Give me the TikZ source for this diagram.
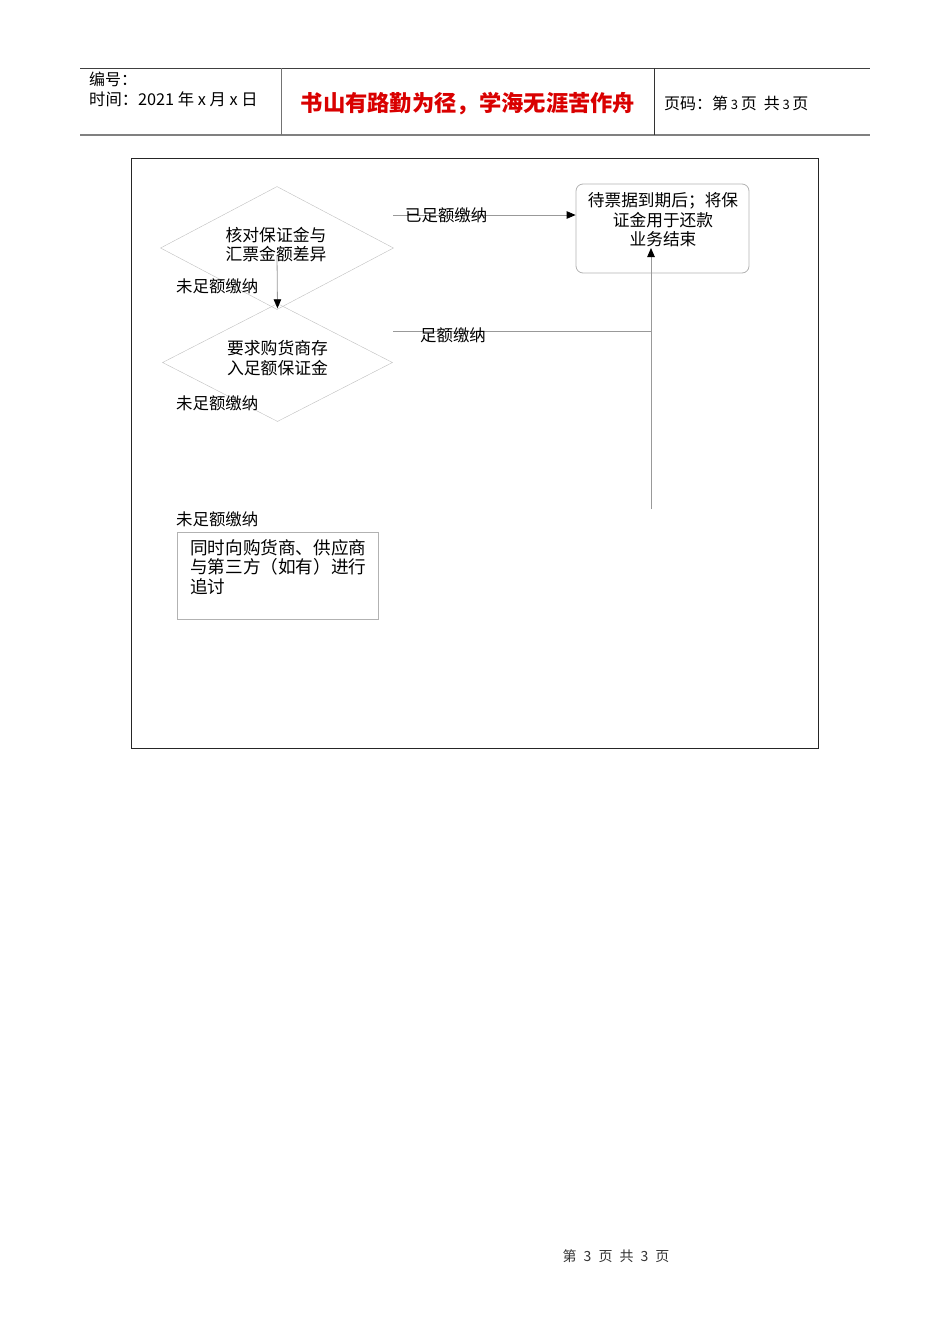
\documentclass[tikz,border=0pt]{standalone}
\usepackage{fontspec}
\setmainfont{Liberation Sans}
\newfontfamily\cjk{Noto Sans CJK SC}
\usetikzlibrary{shapes.geometric,arrows.meta,calc}

\begin{document}
\begin{tikzpicture}[>={Triangle[width=7.5pt,length=9pt,color=black]},x=1pt,y=-1pt,
		font=\cjk\fontsize{16.4}{19.5}\selectfont,
		hop/.style={shape=diamond,draw=black!25,shape aspect=1.9,minimum width=233pt,minimum height=123pt,inner sep=0pt},
		chu/.style={align=center,inner sep=0pt,font=\cjk\fontsize{16.8}{19.5}\selectfont},
		ghi/.style={anchor=west,inner sep=0pt},
		noi/.style={draw=black!40,line width=0.8pt},
		khung/.style={draw=black!30,line width=0.8pt}]
			\def\red{red!85!black}
			\useasboundingbox (0,0) rectangle (950,1344);
			% Vẽ đầu trang
			\draw[black!75,line width=0.8pt] (80,68)--(870,68);
			\draw[black!50,line width=1.6pt] (80,135)--(870,135);
			\draw[black!55,line width=1pt] (281,68)--(281,135);
			\draw[black!80,line width=0.8pt] (654,68)--(654,135);
			\node[ghi,font=\cjk\fontsize{16}{18}\selectfont] (soHieu) at (89,79) {编号：};
			\node[ghi,font=\cjk\fontsize{16.3}{18}\selectfont] (thoiGian) at (89,99) {时间：2021 年 x 月 x 日};
			\node[font=\cjk\fontsize{22.3}{24}\selectfont,text=\red,inner sep=0pt] (tieuDe) at (468,104) {\textbf{书山有路勤为径，学海无涯苦作舟}};
			\node[ghi,font=\cjk\fontsize{16}{18}\selectfont] (trang) at (664,103) {页码：第\,{\fontsize{13}{14}\selectfont 3}\,页\ \ 共\,{\fontsize{13}{14}\selectfont 3}\,页};
			\draw[black!85,line width=0.9pt] (131,158) rectangle (818,748); % Khung
			% Các nút
			\node[hop] (doiChieu) at (277,248) {};
			\node[chu] (doiChieuTxt) at (276,244.5) {核对保证金与\\汇票金额差异};
			\node[hop,minimum width=230pt,minimum height=118pt] (yeuCau) at (277.5,362.5) {};
			\node[chu] (yeuCauTxt) at (277.5,358) {要求购货商存\\入足额保证金};
			\node[khung,rounded corners=7pt,minimum width=173pt,minimum height=89pt] (ketThuc) at (662.5,228.5) {};
			\node[chu,font=\cjk\fontsize{16.7}{19.5}\selectfont] (ketThucTxt) at (663,220) {待票据到期后；将保\\证金用于还款\\业务结束};
			\node[khung,minimum width=201pt,minimum height=87pt] (truyDoi) at (277.5,575.5) {};
			\node[align=left,anchor=north west,inner sep=0pt,font=\cjk\fontsize{17.6}{19.5}\selectfont] (truyDoiTxt) at (190,539) {同时向购货商、供应商\\与第三方（如有）进行\\追讨};
			% Nhãn
			\node[ghi] (chuaDu1) at (176,286) {未足额缴纳};
			\node[ghi] (chuaDu2) at (176,403) {未足额缴纳};
			\node[ghi] (chuaDu3) at (176,519) {未足额缴纳};
			\coordinate (daDu0) at (393,215);
			\coordinate (du0) at (393,331);
			\coordinate (len0) at (651,509);
			\coordinate (len1) at (651,248);
			% Các đường nối
			\draw[noi,->] ([yshift=-7pt]doiChieu.center) -- ([yshift=-5pt]yeuCau.north);
			\draw[noi,->] (daDu0) -- (daDu0 -| ketThuc.west);
			\draw[noi] (du0) -- (du0 -| len0);
			\draw[noi,->] (len0) -- (len1);
			\node[ghi] (daDu) at (405,215) {已足额缴纳};
			\node[ghi] (du) at (420,335) {足额缴纳};
			\node[font=\cjk\fontsize{14}{15}\selectfont,text=black!80,inner sep=0pt] (cuoiTrang) at (616,1256) {第\enspace 3\enspace 页\enspace 共\enspace 3\enspace 页};
	\end{tikzpicture}
\end{document}
